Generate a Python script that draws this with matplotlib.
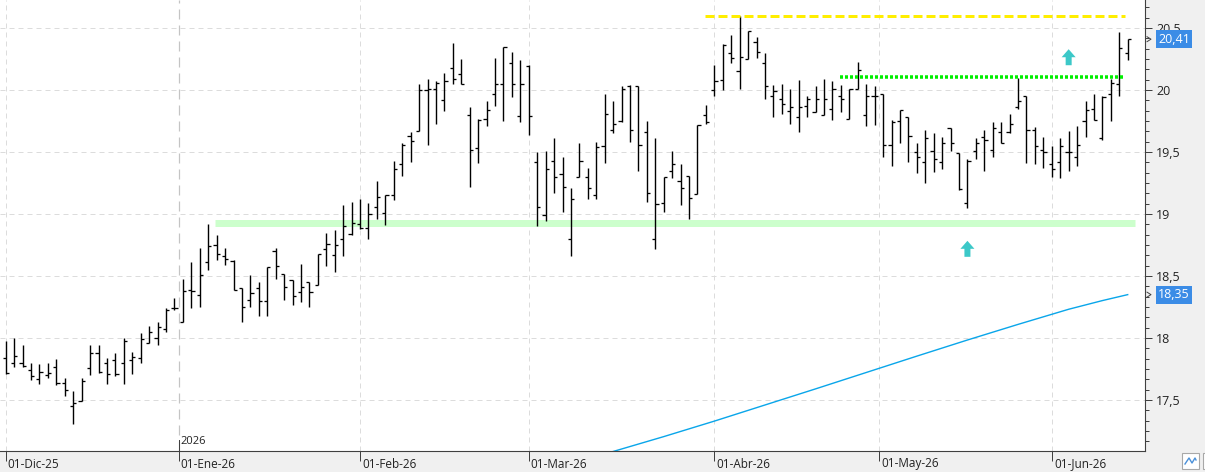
import numpy as np
import pandas as pd
import matplotlib
matplotlib.use("Agg")
import matplotlib.pyplot as plt
import matplotlib.transforms as mtransforms
from matplotlib.patches import Rectangle
from matplotlib.lines import Line2D
from matplotlib.ticker import MultipleLocator, FixedLocator

# DATOS (precio diario)
apertura = [17.84, 17.80, 17.80, 17.74, 17.67, 17.70, 17.77, 17.64, 17.45, 17.49,
            17.76, 17.88, 17.80, 17.82, 17.80, 17.82, 17.84, 17.96, 18.00, 18.07,
            18.24, 18.13, 18.39, 18.35, 18.61, 18.75, 18.66, 18.62, 18.40, 18.31,
            18.40, 18.30, 18.70, 18.52, 18.47, 18.37, 18.45, 18.43, 18.72, 18.67,
            18.80, 18.84, 18.92, 18.89, 19.06, 19.01, 19.15, 19.40, 19.63, 19.67,
            20.00, 20.01, 19.92, 20.18, 20.13, 19.80, 19.53, 19.77, 19.97, 20.05,
            20.22, 19.79, 20.19, 19.42, 18.99, 19.43, 19.32, 18.80, 19.30, 19.30,
            19.15, 19.55, 19.68, 19.75, 20.03, 20.03, 19.66, 18.80, 19.09, 19.35,
            19.27, 19.31, 19.16, 19.80, 20.00, 20.08, 20.30, 20.15, 20.25, 20.39,
            20.22, 19.95, 19.93, 19.83, 19.78, 19.87, 19.82, 19.80, 19.85, 19.95,
            19.77, 20.01, 19.80, 19.95, 19.97, 19.56, 19.75, 19.78, 19.50, 19.42,
            19.51, 19.42, 19.69, 19.49, 19.09, 19.51, 19.62, 19.52, 19.66, 19.66,
            19.86, 19.95, 19.68, 19.52, 19.40, 19.42, 19.50, 19.46, 19.75, 19.85,
            19.61, 19.97, 20.05, 20.30]
maximo = [17.98, 18.00, 17.94, 17.80, 17.79, 17.80, 17.83, 17.68, 17.57, 17.68,
          17.94, 17.94, 17.84, 17.88, 18.00, 17.89, 18.04, 18.10, 18.13, 18.24,
          18.32, 18.48, 18.61, 18.73, 18.92, 18.83, 18.73, 18.63, 18.40, 18.51,
          18.45, 18.57, 18.73, 18.52, 18.47, 18.60, 18.45, 18.68, 18.85, 18.87,
          19.07, 19.10, 19.12, 19.09, 19.27, 19.15, 19.43, 19.57, 19.66, 20.05,
          20.09, 20.07, 20.14, 20.38, 20.25, 19.86, 19.77, 19.91, 20.26, 20.35,
          20.31, 20.24, 20.20, 19.50, 19.51, 19.61, 19.46, 19.21, 19.57, 19.37,
          19.58, 19.97, 19.91, 20.03, 20.04, 20.03, 19.75, 19.61, 19.30, 19.51,
          19.40, 19.31, 19.72, 19.88, 20.20, 20.37, 20.44, 20.60, 20.48, 20.43,
          20.30, 20.04, 20.05, 20.01, 20.08, 19.95, 20.03, 20.09, 20.07, 20.04,
          20.01, 20.23, 20.05, 20.03, 19.97, 19.76, 19.84, 19.78, 19.57, 19.68,
          19.65, 19.62, 19.69, 19.49, 19.44, 19.61, 19.68, 19.74, 19.74, 19.81,
          20.10, 19.95, 19.70, 19.62, 19.55, 19.61, 19.67, 19.71, 19.91, 19.97,
          19.95, 20.09, 20.47, 20.41]
minimo = [17.71, 17.77, 17.77, 17.66, 17.63, 17.68, 17.62, 17.53, 17.31, 17.49,
          17.70, 17.72, 17.63, 17.69, 17.63, 17.71, 17.80, 17.96, 17.94, 18.05,
          18.23, 18.13, 18.24, 18.25, 18.55, 18.63, 18.59, 18.39, 18.13, 18.25,
          18.18, 18.18, 18.48, 18.31, 18.27, 18.29, 18.25, 18.43, 18.58, 18.53,
          18.66, 18.83, 18.88, 18.80, 18.96, 18.91, 19.11, 19.31, 19.42, 19.67,
          19.56, 19.73, 19.83, 20.05, 20.05, 19.22, 19.41, 19.71, 19.87, 19.75,
          19.94, 19.74, 19.64, 18.90, 18.94, 19.17, 19.02, 18.66, 19.30, 19.12,
          19.12, 19.41, 19.65, 19.74, 19.58, 19.35, 19.10, 18.72, 19.02, 19.29,
          19.07, 18.96, 19.16, 19.73, 19.95, 20.00, 20.22, 20.01, 20.25, 20.26,
          19.93, 19.78, 19.81, 19.73, 19.66, 19.78, 19.82, 19.80, 19.76, 19.82,
          19.77, 20.01, 19.71, 19.72, 19.46, 19.39, 19.57, 19.42, 19.33, 19.25,
          19.34, 19.36, 19.51, 19.19, 19.05, 19.44, 19.35, 19.46, 19.57, 19.65,
          19.85, 19.41, 19.40, 19.37, 19.30, 19.29, 19.35, 19.39, 19.62, 19.76,
          19.60, 19.75, 19.95, 20.24]
cierre = [17.72, 17.855, 17.775, 17.69, 17.73, 17.72, 17.64, 17.58, 17.48, 17.65,
          17.88, 17.73, 17.71, 17.71, 17.98, 17.85, 17.99, 18.05, 18.09, 18.23,
          18.24, 18.38, 18.38, 18.51, 18.74, 18.68, 18.64, 18.39, 18.25, 18.36,
          18.30, 18.57, 18.58, 18.41, 18.34, 18.41, 18.37, 18.68, 18.76, 18.75,
          18.90, 18.93, 18.89, 19.00, 19.14, 19.15, 19.36, 19.56, 19.59, 20.00,
          20.01, 20.06, 20.07, 20.09, 20.05, 19.52, 19.76, 19.84, 20.05, 20.35,
          20.05, 20.05, 19.79, 19.06, 19.36, 19.30, 19.22, 19.12, 19.43, 19.21,
          19.54, 19.81, 19.73, 20.01, 19.68, 19.56, 19.17, 19.08, 19.30, 19.40,
          19.21, 19.13, 19.72, 19.74, 20.07, 20.36, 20.26, 20.27, 20.48, 20.31,
          20.03, 19.99, 19.89, 19.86, 19.86, 19.93, 19.93, 19.93, 20.01, 19.93,
          20.01, 20.16, 19.95, 19.95, 19.56, 19.74, 19.84, 19.63, 19.46, 19.61,
          19.44, 19.57, 19.57, 19.20, 19.43, 19.57, 19.60, 19.69, 19.57, 19.73,
          19.91, 19.68, 19.55, 19.50, 19.36, 19.55, 19.50, 19.56, 19.84, 19.76,
          19.94, 20.06, 20.34, 20.41]

media_idx = [72, 78, 84, 90, 96, 102, 108, 114, 120, 126, 130, 133]
media_val = [17.085, 17.205, 17.33, 17.46, 17.59, 17.722, 17.854, 17.984, 18.11, 18.232, 18.302, 18.35]

# niveles dibujados: (barra inicio, barra fin, precio)
techo = (82.9, 132.7, 20.60)
resistencia = (98.9, 132.7, 20.105)
soporte = (24.8, 133.9, 18.93)

# flechas de senal: (barra, precio base)
flechas = [(126, 20.20), (114, 18.655)]

FESTIVOS = ["2025-12-25", "2025-12-26", "2026-01-01", "2026-04-03", "2026-04-06", "2026-05-01"]
MESES = ["Ene", "Feb", "Mar", "Abr", "May", "Jun", "Jul", "Ago", "Sep", "Oct", "Nov", "Dic"]

# FECHAS DE SESION
n = len(cierre)
habiles = pd.bdate_range("2025-12-01", "2026-07-31")
fechas = habiles[~habiles.isin(pd.to_datetime(FESTIVOS))][:n]
idx = np.arange(n)

inicios_mes = pd.date_range("2025-12-01", fechas[-1], freq="MS")
pos_mes = []
for m in inicios_mes:
    p = float(fechas.searchsorted(m))
    if m.weekday() < 5 and m not in fechas:
        p -= 0.5
    pos_mes.append(p)
etiquetas_mes = [f"01-{MESES[m.month - 1]}-{m:%y}" for m in inicios_mes]

# FIGURA
plt.rcParams["font.family"] = ["Open Sans", "DejaVu Sans"]
plt.rcParams["lines.scale_dashes"] = False

W, H = 1205, 472
fig = plt.figure(figsize=(W / 100, H / 100), dpi=100, facecolor="#f0f0f0")
ax = fig.add_axes([0, 21 / H, 1145 / W, 451 / H])
ax.set_facecolor("white")

px = 72 / 100  # 1 pixel en puntos

# rejilla
for v in np.arange(17.5, 20.51, 0.5):
    ax.axhline(v, color="#dcdcdc", lw=1 * px, dashes=(5 * px, 4 * px), zorder=0)
for p, m in zip(pos_mes, inicios_mes):
    if m.month == 1:
        ax.axvline(p, color="#c4c4c4", lw=1.2 * px, dashes=(10 * px, 6 * px), zorder=0)
    else:
        ax.axvline(p, color="#dcdcdc", lw=1 * px, dashes=(5 * px, 4 * px), zorder=0)

# niveles
ax.hlines(soporte[2], soporte[0], soporte[1], color="#ccffcc", lw=7 * px, zorder=1)
ax.hlines(techo[2], techo[0], techo[1], color="#ffee00", lw=3 * px,
          linestyles=[(0, (9 * px, 4 * px))], zorder=4)
ax.hlines(resistencia[2], resistencia[0], resistencia[1], color="#00ee00", lw=3.5 * px,
          linestyles=[(0, (3 * px, 2 * px))], zorder=4)

# media movil
ax.plot(media_idx, media_val, color="#0aa6ea", lw=1.4 * px, zorder=2)

# barras OHLC
w = 0.38
ax.vlines(idx, minimo, maximo, color="black", lw=1.4 * px, zorder=3)
ax.hlines(apertura, idx - w, idx, color="black", lw=1.3 * px, zorder=3)
ax.hlines(cierre, idx, idx + w, color="black", lw=1.3 * px, zorder=3)

# flechas
for b, base in flechas:
    ax.arrow(b, base, 0, 16 / 124, width=6 / 8.436, head_width=14 / 8.436,
             head_length=8 / 124, length_includes_head=True,
             color="#3cc8c8", lw=0, zorder=5)

# EJES
ax.set_xlim(-0.68, 135.05)
ax.set_ylim(17.089, 20.726)

for lado in ["top", "left"]:
    ax.spines[lado].set_visible(False)
ax.spines["right"].set_color("#404040")
ax.spines["bottom"].set_color("#404040")

ax.yaxis.tick_right()
ax.yaxis.set_major_locator(MultipleLocator(0.5))
ax.yaxis.set_minor_locator(MultipleLocator(0.5 / 6))
ax.yaxis.set_major_formatter(matplotlib.ticker.FuncFormatter(lambda v, _: f"{v:g}".replace(".", ",")))
ax.tick_params(axis="y", which="major", length=7 * px, width=1 * px, color="#404040",
               pad=4 * px, labelsize=9, labelcolor="#222222")
ax.tick_params(axis="y", which="minor", length=3.5 * px, width=1 * px, color="#404040")

ax.xaxis.set_major_locator(FixedLocator(pos_mes))
ax.set_xticklabels([""] * len(pos_mes))
ax.tick_params(axis="x", which="major", length=10 * px, width=1 * px, color="#404040")

trans_x = mtransforms.blended_transform_factory(ax.transData, ax.transAxes)
for p, lab in zip(pos_mes, etiquetas_mes):
    ax.text(p + 0.25, -13 / 451, lab, transform=trans_x, ha="left", va="center",
            fontsize=8.5, color="#222222", clip_on=False)

# marca de anio
ene = pos_mes[[m.month for m in inicios_mes].index(1)]
ax.plot([ene, ene], [0, 11 / 451], transform=trans_x, color="#404040", lw=1 * px, clip_on=False)
ax.text(ene + 0.25, 9 / 451, "2026", transform=trans_x, ha="left", va="center",
        fontsize=8, color="#222222")

# etiquetas de valor en el eje
trans_y = mtransforms.blended_transform_factory(ax.transAxes, ax.transData)
for v in [cierre[-1], media_val[-1]]:
    ax.text(1 + 13 / 1145, v, f"{v:.2f}".replace(".", ","), transform=trans_y,
            ha="left", va="center", fontsize=9, color="white", clip_on=False, zorder=6,
            bbox=dict(boxstyle="square,pad=0.2", fc="#3b8ce6", ec="none"))
    ax.plot([1 + 2 / 1145, 1 + 6 / 1145, 1 + 2 / 1145], [v + 0.02, v, v - 0.02],
            transform=trans_y, color="#404040", lw=0.7, clip_on=False)

# icono abajo a la derecha
fig.add_artist(Rectangle((1182 / W, 3 / H), 17 / W, 16 / H, transform=fig.transFigure,
                         fc="white", ec="#a8a8a8", lw=0.8))
fig.add_artist(Line2D(np.array([1185, 1189, 1192, 1195, 1196]) / W,
                      np.array([8, 14, 9, 14, 12]) / H, transform=fig.transFigure,
                      color="#4a90d9", lw=1))
fig.add_artist(Rectangle((1203 / W, 3 / H), 10 / W, 16 / H, transform=fig.transFigure,
                         fc="white", ec="#a8a8a8", lw=0.8))

fig.savefig("out.png", dpi=100, facecolor=fig.get_facecolor())
